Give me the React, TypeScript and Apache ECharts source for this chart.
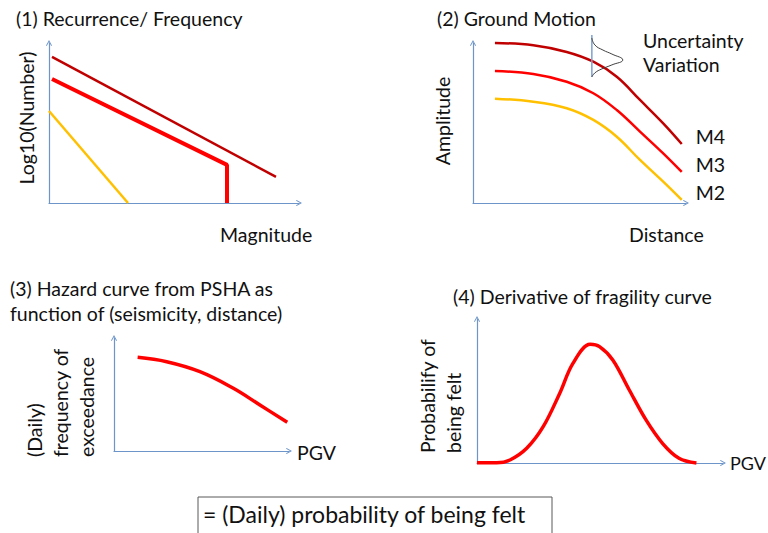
import React, { useEffect, useRef } from "react";
import * as echarts from "echarts";

// Panel 1: Recurrence / Frequency (x: magnitude units 0-10, y: log10 number 0-10)
const p1DarkRed = [[0.12, 9.13], [9.08, 1.63]];
const p1Red = [[0.12, 7.75], [7.12, 2.38], [7.12, 0]];
const p1Yellow = [[0, 5.75], [3.16, 0]];

// Panel 2: Ground motion (x: distance 0-10, y: amplitude 0-10)
const p2M4 = [[1.03, 10.0], [2.83, 9.86], [4.4, 9.44], [5.65, 8.83], [6.75, 7.89], [7.84, 6.44], [8.93, 4.98], [9.8, 3.69]];
const p2M3 = [[1.03, 8.25], [2.83, 8.06], [4.4, 7.58], [5.65, 6.86], [6.75, 5.81], [7.84, 4.46], [8.93, 3.1], [9.8, 1.94]];
const p2M2 = [[1.03, 6.52], [2.83, 6.33], [4.4, 5.92], [5.65, 5.19], [6.75, 4.14], [7.84, 2.69], [8.93, 1.33], [9.8, 0.19]];
const p2UncLine = [[5.58, 10.5], [5.58, 7.88]];
const p2UncBell = [[5.58, 10.31], [5.72, 9.88], [6.1, 9.56], [6.52, 9.31], [7.03, 8.94], [6.52, 8.63], [6.05, 8.38], [5.72, 8.13], [5.58, 7.88]];
const p2Labels = ["M4", "M3", "M2"];

// Panel 3: Hazard curve (x: PGV 0-10, y: frequency of exceedance 0-10)
const p3Hazard = [[1.35, 8.29], [3.01, 7.9], [4.91, 7.02], [6.82, 5.55], [8.34, 4.07], [9.9, 2.54]];

// Panel 4: Derivative of fragility curve (x: PGV 0-10, y: probability 0-10)
const p4Curve = [[0.0, 0.02], [0.8, 0.02], [1.34, 0.21], [2.02, 1.02], [2.69, 2.52], [3.36, 4.83], [3.9, 6.92], [4.6, 8.24], [4.98, 8.08], [5.52, 7.15], [6.19, 5.07], [6.87, 2.99], [7.54, 1.37], [8.21, 0.33], [8.92, 0.0]];

const FONT = "Lato";
const FS = 19.5;
const AXIS_COLOR = "#6d95c9";
const DARK_RED = "#c00000";
const RED = "#ff0000";
const YELLOW = "#ffc000";
const CHEVRON = "path://M0,9 L5,0 L10,9 L8.8,10 L5,3.2 L1.2,10 Z";

function axisPair(gridIndex: number) {
  const common = {
    type: "value" as const,
    min: 0,
    max: 10,
    gridIndex,
    axisLabel: { show: false },
    axisTick: { show: false },
    splitLine: { show: false },
    axisLine: {
      show: true,
      onZero: false,
      symbol: ["none", CHEVRON],
      symbolSize: [9, 6],
      lineStyle: { color: AXIS_COLOR, width: 1.2 },
    },
  };
  return { x: { ...common }, y: { ...common } };
}

function txt(text: string, x: number, y: number, extra: any = {}) {
  return {
    type: "text",
    x,
    y,
    rotation: extra.rotation || 0,
    style: {
      text,
      fill: "#111",
      font: `${extra.size || FS}px ${FONT}`,
      textAlign: extra.align || "left",
      textVerticalAlign: "middle",
      verticalAlign: "middle",
    },
  };
}

export default function App() {
  const ref = useRef<HTMLDivElement>(null);
  useEffect(() => {
    if (!ref.current) return;
    const chart = echarts.init(ref.current, null, { renderer: "svg" });
    const axes = [0, 1, 2, 3].map(axisPair);
    const line = (data: number[][], idx: number, color: string, width: number, smooth: number | boolean = false, extra: any = {}) => ({
      type: "line",
      xAxisIndex: idx,
      yAxisIndex: idx,
      data,
      smooth,
      symbol: "none",
      clip: false,
      lineStyle: { color, width, cap: "butt" },
      silent: true,
      ...extra,
    });
    const endLabel = (text: string) => ({
      endLabel: { show: true, formatter: text, fontFamily: FONT, fontSize: FS, color: "#111", distance: 14, offset: [0, -7] },
    });
    const R = Math.PI / 2;
    chart.setOption({
      animation: false,
      backgroundColor: "#ffffff",
      grid: [
        { left: 49, top: 43, width: 250, height: 160 },
        { left: 473, top: 43, width: 213, height: 160 },
        { left: 114, top: 338, width: 175, height: 113 },
        { left: 477, top: 319, width: 246, height: 144 },
      ],
      xAxis: axes.map((a) => a.x),
      yAxis: axes.map((a) => a.y),
      series: [
        line(p1DarkRed, 0, DARK_RED, 2.5),
        line(p1Red, 0, RED, 4),
        line(p1Yellow, 0, YELLOW, 2.5),
        line(p2M4, 1, DARK_RED, 2.5, 0.4, endLabel(p2Labels[0])),
        line(p2M3, 1, RED, 2.5, 0.4, endLabel(p2Labels[1])),
        line(p2M2, 1, YELLOW, 2.5, 0.4, endLabel(p2Labels[2])),
        line(p2UncLine, 1, "#7ea1cf", 1.5),
        line(p2UncBell, 1, "#404040", 1, 0.5),
        line(p3Hazard, 2, RED, 3.5, 0.4),
        line(p4Curve, 3, RED, 3.5, 0.35),
      ],
      graphic: [
        txt("(1) Recurrence/ Frequency", 16, 18),
        txt("Log10(Number)", 26, 118, { rotation: R, align: "center" }),
        txt("Magnitude", 220, 234),
        txt("(2) Ground Motion", 437, 18),
        txt("Uncertainty", 643, 40),
        txt("Variation", 643, 64),
        txt("Amplitude", 442, 121, { rotation: R, align: "center" }),
        txt("Distance", 629, 234),
        txt("(3) Hazard curve from PSHA as", 10, 288),
        txt("function of (seismicity, distance)", 10, 313),
        txt("(Daily)", 34, 457, { rotation: R }),
        txt("frequency of", 60, 457, { rotation: R }),
        txt("exceedance", 86, 457, { rotation: R }),
        txt("PGV", 297, 452),
        txt("(4) Derivative of fragility curve", 453, 296),
        txt("Probabilify of", 427, 453, { rotation: R }),
        txt("being felt", 453, 453, { rotation: R }),
        txt("PGV", 730, 463, { size: 18 }),
        {
          type: "rect",
          shape: { x: 198, y: 497, width: 354, height: 50 },
          style: { fill: "#fff", stroke: "#595959", lineWidth: 1 },
        },
        txt("= (Daily) probability of being felt", 203, 514, { size: 23 }),
      ],
    });
    return () => chart.dispose();
  }, []);
  return <div ref={ref} style={{ position: "fixed", left: 0, top: 0, width: 768, height: 533 }} />;
}
